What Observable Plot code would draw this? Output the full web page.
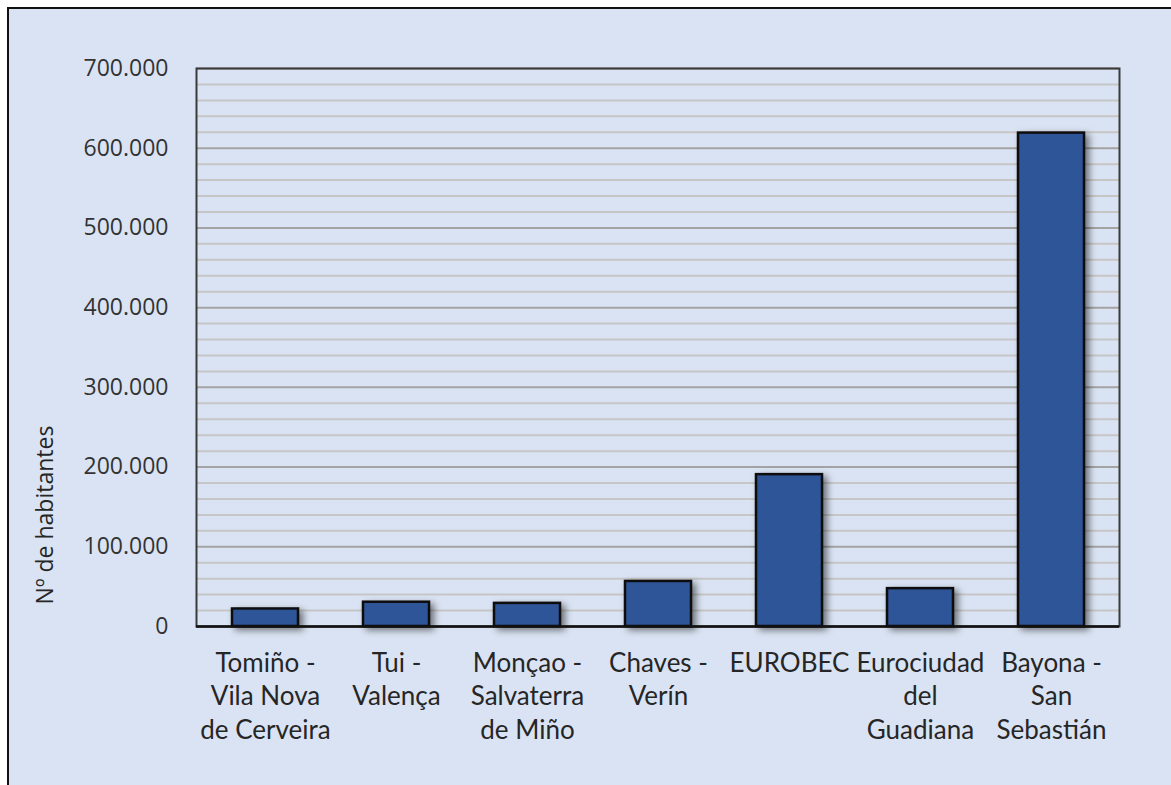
<!DOCTYPE html>
<html>
<head>
<meta charset="utf-8">
<script src="https://cdn.jsdelivr.net/npm/d3@7"></script>
<script src="https://cdn.jsdelivr.net/npm/@observablehq/plot@0.6"></script>
<style>
  html, body { margin: 0; padding: 0; background: #ffffff; width: 1171px; height: 785px; overflow: hidden; }
  #frame { position: absolute; left: 7px; top: 7px; width: 1200px; height: 800px;
           border-top: 2px solid #111; border-left: 2px solid #111; background: #dae3f3; }
  #chart { position: absolute; left: 0; top: 0; }
  #ytitle { position: absolute; left: 44px; top: 515px; transform: translate(-50%, -50%) rotate(-90deg);
            font-family: "Open Sans", sans-serif; font-size: 23px; color: #262626; white-space: nowrap; }
</style>
</head>
<body>
<div id="frame"></div>
<div id="chart"></div>
<div id="ytitle">Nº de habitantes</div>
<script>
const categories = [
  "Tomiño -\nVila Nova\nde Cerveira",
  "Tui -\nValença",
  "Monçao -\nSalvaterra\nde Miño",
  "Chaves -\nVerín",
  "EUROBEC",
  "Eurociudad\ndel\nGuadiana",
  "Bayona -\nSan\nSebastián"
];
const habitantes = [22000, 30500, 29000, 56500, 190500, 47500, 619000];
const yTicks = [0, 100000, 200000, 300000, 400000, 500000, 600000, 700000];
const yMinorTicks = [20000, 40000, 60000, 80000, 120000, 140000, 160000, 180000,
  220000, 240000, 260000, 280000, 320000, 340000, 360000, 380000,
  420000, 440000, 460000, 480000, 520000, 540000, 560000, 580000,
  620000, 640000, 660000, 680000];

const data = categories.map((c, i) => ({ cat: c, value: habitantes[i] }));
const fmt = d => d === 0 ? "0" : d3.format(",")(d).replace(/,/g, ".");

const plot = Plot.plot({
  width: 1171,
  height: 785,
  marginLeft: 196,
  marginRight: 52,
  marginTop: 68,
  marginBottom: 159,
  style: { background: "transparent", color: "#333333", fontFamily: "Open Sans, sans-serif" },
  x: { domain: categories, paddingInner: 0.5, paddingOuter: 0.25, label: null },
  y: { domain: [0, 700000], label: null },
  marks: [
    Plot.ruleY(yMinorTicks, { stroke: "#c6c6c6", strokeWidth: 2 }),
    Plot.ruleY(yTicks, { stroke: "#a3a3a3", strokeWidth: 2 }),
    Plot.frame({ stroke: "#3a3a3a", strokeWidth: 2 }),
    Plot.axisY({ ticks: yTicks, tickFormat: fmt, tickSize: 0, tickPadding: 28, fontSize: 23, fill: "#333333", label: null }),
    Plot.axisX({ tickSize: 0, tickPadding: 22, fontSize: 26, lineHeight: 1.28, fill: "#262626", label: null,
                 fontFamily: "Lato, sans-serif" }),
    Plot.barY(data, { x: "cat", y: "value", fill: "#2f5597", stroke: "#0d0d0d", strokeWidth: 2.5 }),
    Plot.ruleY([0], { stroke: "#111111", strokeWidth: 2.5 })
  ]
});

// drop shadow for the bars
const svg = d3.select(plot);
const defs = svg.insert("defs", ":first-child");
const f = defs.append("filter").attr("id", "barShadow").attr("x", "-30%").attr("y", "-30%").attr("width", "160%").attr("height", "160%");
f.append("feDropShadow").attr("dx", 4).attr("dy", 3).attr("stdDeviation", 3.5).attr("flood-color", "#000").attr("flood-opacity", 0.5);
svg.selectAll('g[aria-label="bar"]').attr("filter", "url(#barShadow)");

document.getElementById("chart").appendChild(plot);
</script>
</body>
</html>
